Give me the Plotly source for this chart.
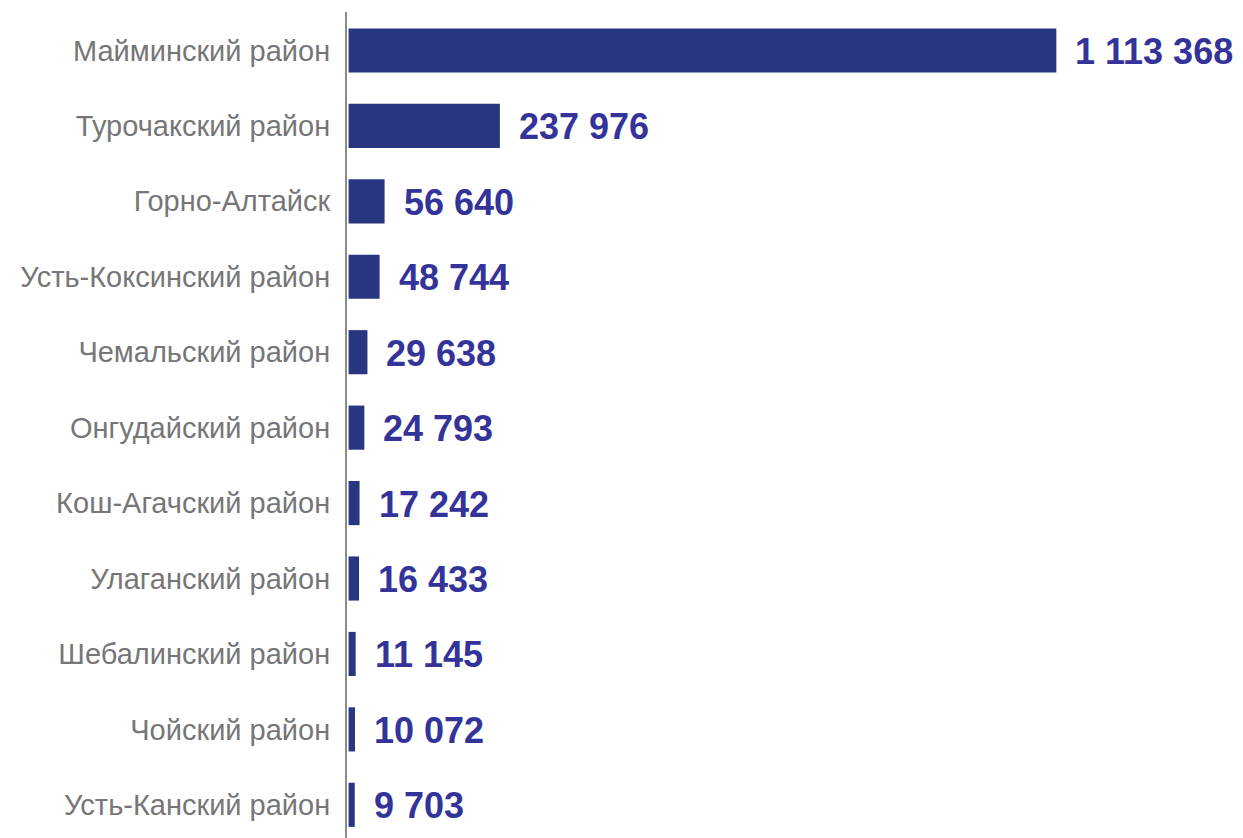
import plotly.graph_objects as go

districts = ["Майминский район", "Турочакский район", "Горно-Алтайск", "Усть-Коксинский район",
             "Чемальский район", "Онгудайский район", "Кош-Агачский район", "Улаганский район",
             "Шебалинский район", "Чойский район", "Усть-Канский район"]
values = [1113368, 237976, 56640, 48744, 29638, 24793, 17242, 16433, 11145, 10072, 9703]

def fmt(v):
    return f"{v:,}".replace(",", " ")

fig = go.Figure(go.Bar(
    x=values, y=districts, orientation="h",
    marker=dict(color="#283580", line=dict(width=0)),
    width=0.585, hoverinfo="skip",
))

for d, v in zip(districts, values):
    fig.add_annotation(x=v, y=d, text=fmt(v), showarrow=False, xanchor="left", yanchor="middle",
                       xshift=17, yshift=-1,
                       font=dict(family="Liberation Sans, Arial", size=36, color="#333399", weight="bold"))

fig.update_layout(
    width=1243, height=838,
    margin=dict(l=347, r=0, t=12, b=0),
    plot_bgcolor="white", paper_bgcolor="white",
    showlegend=False,
    xaxis=dict(range=[-2500, 1407000], showgrid=False, zeroline=False, showticklabels=False,
               showline=False),
    yaxis=dict(categoryorder="array", categoryarray=districts, range=[10.44, -0.51],
               showgrid=False, zeroline=False, showline=True, linecolor="#8c8c8c", linewidth=2,
               ticks="", ticklabelstandoff=9, automargin=False,
               tickfont=dict(family="Liberation Sans, Arial", size=29, color="#767676")),
)

fig.write_html("out.html", config={"displayModeBar": False},
               post_script="document.body.style.margin='0';document.body.style.overflow='hidden';")
